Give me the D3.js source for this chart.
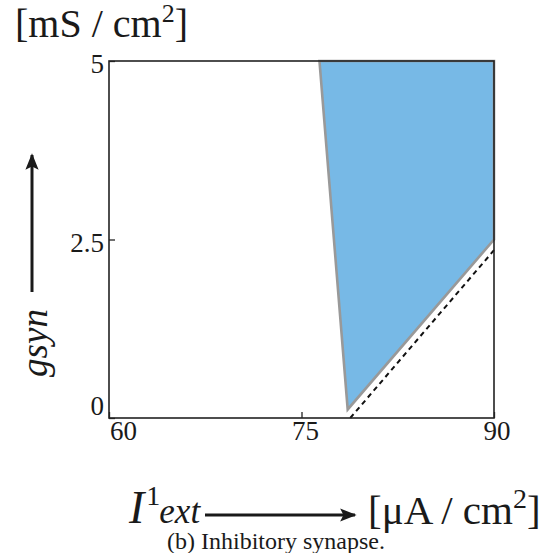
<!DOCTYPE html>
<html>
<head>
<meta charset="utf-8">
<script src="https://cdn.jsdelivr.net/npm/d3@7"></script>
<style>
  body { margin: 0; background: #fff; }
  svg { display: block; }
  text { font-family: "Liberation Serif", "Times New Roman", Times, serif; fill: #1a1a1a; }
</style>
</head>
<body>
<div id="viz"></div>
<script>
// Region of the (I_ext, gsyn) plane, inhibitory synapse
var xTicks = [60, 75, 90];
var xTickLabels = ["60", "75", "90"];
var yTicks = [0, 2.5, 5];
var yTickLabels = ["0", "2.5", "5"];

// shaded region corners (I_ext, gsyn)
var regionI = [76.4, 90, 90, 78.6];
var regionG = [5, 5, 2.5, 0.12];

// dashed boundary
var boundaryI = [78.8, 90];
var boundaryG = [0, 2.35];

var W = 550, H = 553;
var plotL = 109, plotR = 494, plotT = 61, plotB = 418;

var x = d3.scaleLinear().domain([60, 90]).range([plotL, plotR]);
var y = d3.scaleLinear().domain([0, 5]).range([plotB, plotT]);

var svg = d3.select("#viz").append("svg")
    .attr("width", W)
    .attr("height", H);

var defs = svg.append("defs");
defs.append("marker")
    .attr("id", "head")
    .attr("viewBox", "0 0 10 8")
    .attr("refX", 9).attr("refY", 4)
    .attr("markerWidth", 5.5).attr("markerHeight", 4.4)
    .attr("markerUnits", "strokeWidth")
    .attr("orient", "auto")
  .append("path")
    .attr("d", "M0,0 L10,4 L0,8 L2,4 Z")
    .attr("fill", "#1a1a1a");

// shaded region
var pts = regionI.map(function(d, i) { return [x(d), y(regionG[i])]; });
svg.append("path")
    .attr("d", d3.line()(pts) + "Z")
    .attr("fill", "#77b9e6")
    .attr("stroke", "#999")
    .attr("stroke-width", 2.6)
    .attr("stroke-linejoin", "miter");

// dashed line
svg.append("path")
    .attr("d", d3.line()(boundaryI.map(function(d, i) { return [x(d), y(boundaryG[i])]; })))
    .attr("fill", "none")
    .attr("stroke", "#111")
    .attr("stroke-width", 2)
    .attr("stroke-dasharray", "5,4");

// frame
svg.append("rect")
    .attr("x", plotL).attr("y", plotT)
    .attr("width", plotR - plotL).attr("height", plotB - plotT)
    .attr("fill", "none")
    .attr("stroke", "#222")
    .attr("stroke-width", 1.6);

// inward ticks
var xAxis = d3.axisTop(x).tickValues(xTicks).tickSize(6).tickFormat("");
var gx = svg.append("g").attr("transform", "translate(0," + plotB + ")").call(xAxis);
var yAxis = d3.axisRight(y).tickValues(yTicks).tickSize(6).tickFormat("");
var gy = svg.append("g").attr("transform", "translate(" + plotL + ",0)").call(yAxis);
[gx, gy].forEach(function(g) {
    g.select(".domain").remove();
    g.selectAll(".tick line").attr("stroke", "#222").attr("stroke-width", 1.3);
});

// tick labels
svg.append("g").selectAll("text")
    .data(xTicks)
    .enter().append("text")
    .attr("x", function(d, i) { return i == 0 ? x(d) + 1 : (i == 1 ? x(d) + 4 : x(d) + 3); })
    .attr("y", plotB + 22)
    .attr("text-anchor", function(d, i) { return i == 0 ? "start" : "middle"; })
    .attr("font-size", 27)
    .text(function(d, i) { return xTickLabels[i]; });

svg.append("g").selectAll("text")
    .data(yTicks)
    .enter().append("text")
    .attr("x", plotL - 5)
    .attr("y", function(d, i) { return i == 0 ? y(d) - 3 : y(d) + 12; })
    .attr("text-anchor", "end")
    .attr("font-size", 27)
    .text(function(d, i) { return yTickLabels[i]; });

// y axis title
svg.append("text")
    .attr("x", 15).attr("y", 37)
    .attr("font-size", 40)
    .html('[mS / cm<tspan font-size="26" dy="-15">2</tspan><tspan dy="15">]</tspan>');

svg.append("line")
    .attr("x1", 32).attr("y1", 292)
    .attr("x2", 32).attr("y2", 155)
    .attr("stroke", "#1a1a1a")
    .attr("stroke-width", 3)
    .attr("marker-end", "url(#head)");

svg.append("text")
    .attr("transform", "translate(47,343) rotate(-90)")
    .attr("text-anchor", "middle")
    .attr("font-size", 37)
    .attr("font-style", "italic")
    .text("gsyn");

// x axis title
svg.append("text")
    .attr("x", 129).attr("y", 523)
    .attr("font-size", 46)
    .attr("font-style", "italic")
    .html('I<tspan font-style="normal" font-size="28" dy="-18" dx="2">1</tspan><tspan font-size="35" dy="18" dx="-1">ext</tspan>');

svg.append("line")
    .attr("x1", 205).attr("y1", 515)
    .attr("x2", 355).attr("y2", 515)
    .attr("stroke", "#1a1a1a")
    .attr("stroke-width", 3)
    .attr("marker-end", "url(#head)");

svg.append("text")
    .attr("x", 368).attr("y", 524)
    .attr("font-size", 41)
    .html('[μA / cm<tspan font-size="28" dy="-16">2</tspan><tspan dy="16">]</tspan>');

// caption
svg.append("text")
    .attr("x", 167).attr("y", 549)
    .attr("font-size", 24)
    .text("(b) Inhibitory synapse.");
</script>
</body>
</html>
